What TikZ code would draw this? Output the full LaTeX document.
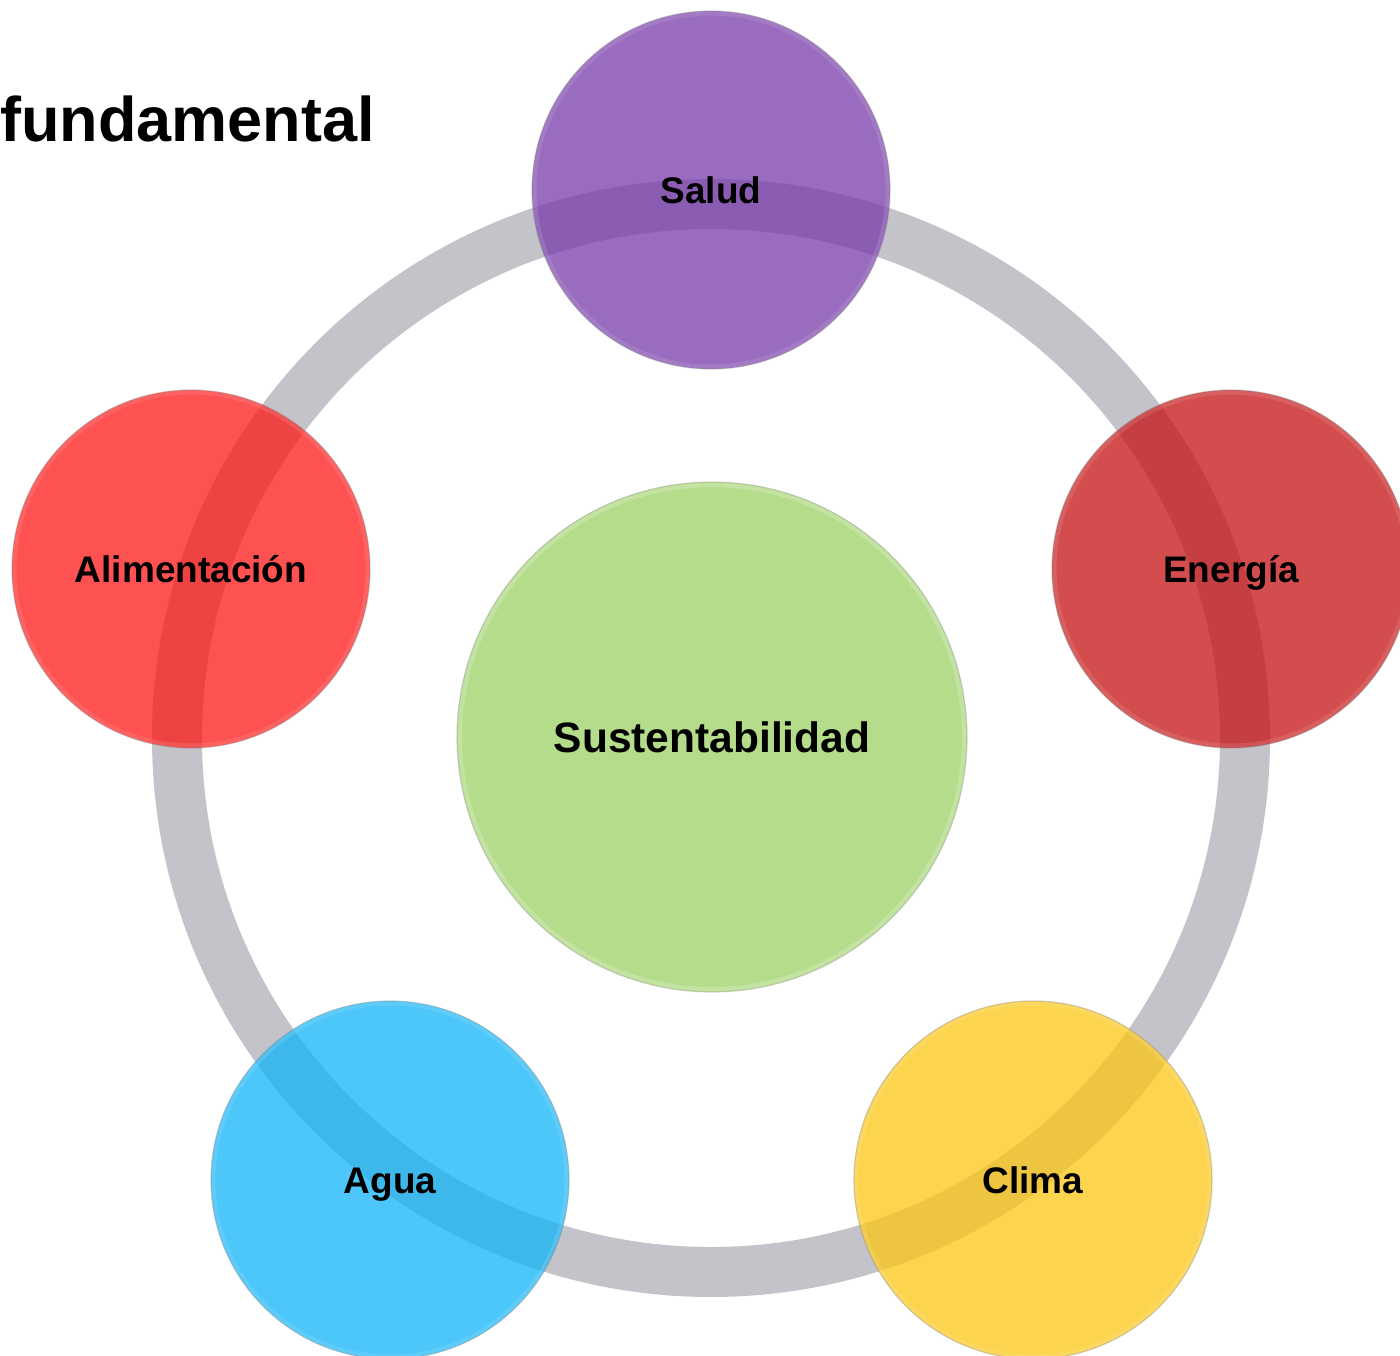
\documentclass[tikz,border=0pt]{standalone}
\usepackage{fontspec}
\setmainfont{Liberation Sans}
\begin{document}
\begin{tikzpicture}[x=1pt,y=-1pt,
  ringline/.style={draw=ringgray,line width=50pt},
  bubble/.style={circle,minimum size=358pt,inner sep=0pt,fill=#1,fill opacity=0.75,
    draw=black!45,draw opacity=0.4,line width=1.2pt,text opacity=1,
    font=\bfseries\fontsize{37}{41}\selectfont,text height=27pt,text depth=0pt},
  rim/.style={draw=#1,draw opacity=0.22,line width=4pt},
  hub/.style={circle,minimum size=510pt,inner sep=0pt,fill=hubgreen,
    draw=black!35,draw opacity=0.45,line width=1.2pt,
    font=\bfseries\fontsize{42.5}{47}\selectfont,text height=30pt,text depth=0pt},
  title/.style={font=\bfseries\fontsize{63}{70}\selectfont,inner sep=0pt}]
\definecolor{ringgray}{RGB}{196,195,202}
\definecolor{hubgreen}{RGB}{180,220,138}
\definecolor{cpurple}{RGB}{120,60,170}
\definecolor{cred}{RGB}{198,18,20}
\definecolor{cbright}{RGB}{254,23,23}
\definecolor{cblue}{RGB}{18,180,247}
\definecolor{cyellow}{RGB}{251,198,19}
\useasboundingbox (0,0) rectangle (1400,1356);
\clip (0,0) rectangle (1400,1356);
\fill[white] (0,0) rectangle (1400,1356);

% heading fragment
\node[title,anchor=base west] (head) at (0,142) {fundamental};

% connecting ring
\coordinate (ctr) at (711,738);
\draw[ringline] (ctr) circle[radius=534pt];

% central bubble
\node[hub] (sust) at (712,737) {Sustentabilidad};
\draw[rim=white] (sust.center) circle[radius=252pt];

% outer bubbles on a pentagon around the ring centre
\node[bubble=cpurple] (salud) at (711,190) {Salud};
\node[bubble=cred] (energia) at (1231,569) {Energía};
\node[bubble=cbright] (alim) at (191,569) {Alimentación};
\node[bubble=cblue] (agua) at (390,1180) {Agua};
\node[bubble=cyellow] (clima) at (1033,1180) {Clima};

% soft inner highlight along each bubble's edge
\foreach \b/\c in {salud/cpurple,energia/cred,alim/cbright,agua/cblue,clima/cyellow}
  \draw[rim=\c!40!white] (\b.center) circle[radius=176.5pt];
\end{tikzpicture}
\end{document}
